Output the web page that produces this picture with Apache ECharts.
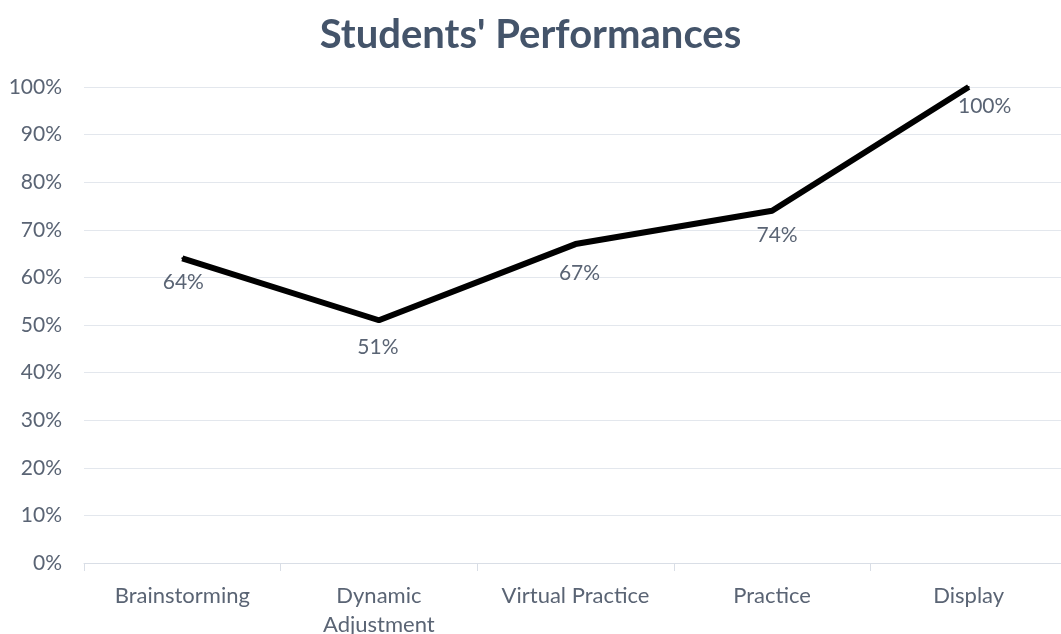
<!DOCTYPE html>
<html><head><meta charset="utf-8">
<script src="https://cdn.jsdelivr.net/npm/echarts@6/dist/echarts.min.js"></script>
<style>html,body{margin:0;padding:0;background:#fff}#c{width:1061px;height:634px}</style>
</head><body><div id="c"></div>
<script>
const categories = ['Brainstorming', 'Dynamic\nAdjustment', 'Virtual Practice', 'Practice', 'Display'];
const values = [64, 51, 67, 74, 100];
const yTicks = [0, 10, 20, 30, 40, 50, 60, 70, 80, 90, 100];
const titleText = "Students' Performances";

const FONT = 'Lato';
const labelShift = [[1, 0], [-1, 3], [4, 6], [5, 1], [16, -4]];
const chart = echarts.init(document.getElementById('c'), null, {renderer: 'canvas'});
chart.setOption({
  animation: false,
  backgroundColor: '#fff',
  title: {
    text: titleText, left: 'center', top: 10,
    textStyle: {fontFamily: FONT, fontSize: 40, fontWeight: 'bold', color: '#44546a'}
  },
  grid: {left: 84, top: 87, bottom: 71, width: 983, outerBoundsMode: 'none', containLabel: false},
  xAxis: {
    type: 'category', data: categories, boundaryGap: true,
    axisLine: {lineStyle: {color: '#d9dee6', width: 1}},
    axisTick: {show: true, length: 8, lineStyle: {color: '#d9dee6'}},
    axisLabel: {fontFamily: FONT, fontSize: 22, color: '#5a6474', margin: 18, lineHeight: 29}
  },
  yAxis: {
    type: 'value', min: yTicks[0], max: yTicks[yTicks.length - 1], interval: 10,
    axisLine: {show: false}, axisTick: {show: false},
    splitLine: {lineStyle: {color: '#e3e7ed', width: 1}},
    axisLabel: {fontFamily: FONT, fontSize: 21, color: '#5a6474', margin: 22, formatter: v => v + '%'}
  },
  series: [{
    type: 'line',
    data: values,
    symbol: 'circle', symbolSize: 2, showSymbol: true,
    itemStyle: {color: '#000'},
    lineStyle: {color: '#000', width: 6}, clip: false,
    labelLayout: p => ({dx: labelShift[p.dataIndex][0], dy: labelShift[p.dataIndex][1], hideOverlap: false}),
    label: {show: true, position: 'bottom', distance: 12, fontFamily: FONT, fontSize: 21, color: '#5a6474', formatter: p => p.value + '%'}
  }]
});
</script></body></html>
